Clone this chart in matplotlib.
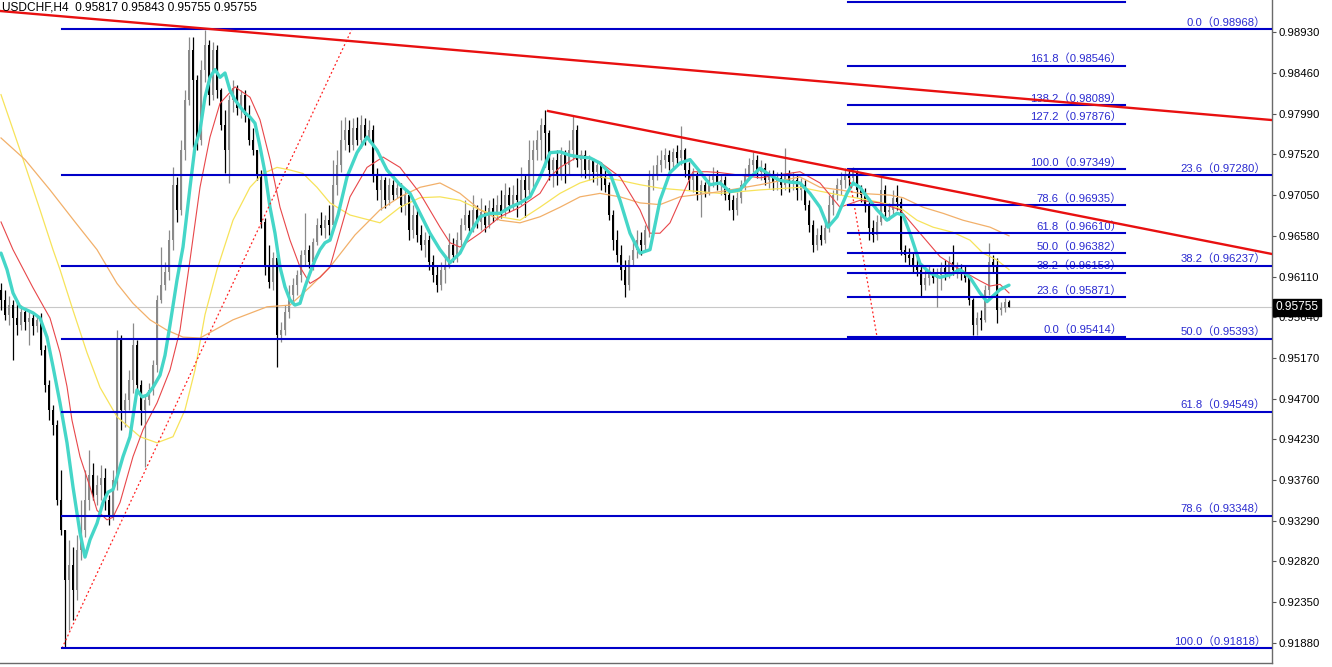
import numpy as np
import matplotlib
matplotlib.use('Agg')
import matplotlib.pyplot as plt
import matplotlib.transforms as mtransforms

plt.rcParams['font.family'] = ['Liberation Sans', 'Noto Sans CJK SC', 'DejaVu Sans']

# ---- data (prices in pips, 4 decimals) ----
symbol = 'USDCHF,H4'
last_ohlc = (0.95817, 0.95843, 0.95755, 0.95755)
first_open = 9596

close_pips = [
    9584, 9567, 9578, 9563, 9555, 9570, 9558, 9563, 9554, 9561,
    9526, 9486, 9457, 9440, 9353, 9318, 9261, 9278, 9249, 9295,
    9318, 9353, 9382, 9359, 9370, 9378, 9353, 9336, 9376, 9538,
    9457, 9468, 9492, 9532, 9486, 9457, 9468, 9480, 9509, 9584,
    9601, 9616, 9653, 9717, 9688, 9757, 9815, 9873, 9838, 9769,
    9850, 9878, 9821, 9873, 9826, 9786, 9757, 9815, 9829, 9806,
    9821, 9798, 9769, 9757, 9728, 9674, 9624, 9605, 9632, 9544,
    9549, 9570, 9590, 9601, 9613, 9636, 9642, 9628, 9651, 9671,
    9667, 9676, 9671, 9717, 9740, 9769, 9780, 9763, 9783, 9769,
    9786, 9771, 9780, 9728, 9711, 9722, 9699, 9717, 9705, 9713,
    9694, 9705, 9665, 9682, 9659, 9647, 9653, 9628, 9613, 9601,
    9619, 9624, 9647, 9636, 9653, 9671, 9682, 9667, 9688, 9674,
    9686, 9671, 9690, 9682, 9694, 9686, 9705, 9694, 9705, 9699,
    9722, 9711, 9746, 9757, 9769, 9786, 9777, 9734, 9746, 9728,
    9751, 9740, 9757, 9780, 9746, 9751, 9734, 9746, 9732, 9740,
    9725, 9717, 9682, 9653, 9636, 9619, 9601, 9630, 9642, 9653,
    9647, 9665, 9722, 9728, 9740, 9746, 9751, 9743, 9755, 9748,
    9757, 9734, 9722, 9728, 9705, 9717, 9709, 9722, 9728, 9717,
    9722, 9705, 9699, 9688, 9702, 9717, 9728, 9740, 9746, 9732,
    9736, 9722, 9728, 9720, 9725, 9717, 9728, 9720, 9722, 9711,
    9717, 9694, 9671, 9647, 9659, 9653, 9667, 9694, 9705, 9717,
    9722, 9728, 9725, 9732, 9711, 9705, 9694, 9667, 9659, 9674,
    9711, 9686, 9688, 9702, 9697, 9642, 9636, 9632, 9624, 9619,
    9601, 9609, 9616, 9609, 9613, 9621, 9616, 9628, 9619, 9621,
    9615, 9609, 9584, 9555, 9563, 9561, 9596, 9628, 9624, 9572,
    9575, 9581.7, 9575.5]

high_pips = [
    9604, 9596, 9589, 9584, 9584, 9578, 9575, 9572, 9570, 9567,
    9569, 9532, 9492, 9463, 9445, 9388, 9318, 9307, 9299, 9313,
    9353, 9388, 9411, 9396, 9382, 9393, 9390, 9359, 9388, 9549,
    9544, 9477, 9503, 9557, 9538, 9492, 9474, 9488, 9515, 9590,
    9645, 9628, 9665, 9737, 9726, 9769, 9826, 9888, 9888, 9844,
    9861, 9896, 9884, 9882, 9878, 9829, 9803, 9821, 9838, 9832,
    9826, 9826, 9809, 9783, 9757, 9734, 9679, 9647, 9639, 9636,
    9558, 9578, 9601, 9609, 9619, 9642, 9684, 9647, 9656, 9679,
    9686, 9682, 9694, 9746, 9757, 9792, 9795, 9792, 9794, 9795,
    9798, 9794, 9792, 9786, 9736, 9728, 9726, 9725, 9722, 9720,
    9719, 9711, 9709, 9694, 9688, 9671, 9662, 9659, 9636, 9624,
    9628, 9636, 9661, 9656, 9662, 9679, 9699, 9688, 9705, 9694,
    9702, 9694, 9699, 9702, 9705, 9711, 9719, 9714, 9717, 9725,
    9737, 9728, 9769, 9769, 9780, 9794, 9803, 9780, 9749, 9757,
    9761, 9757, 9769, 9798, 9786, 9757, 9757, 9751, 9748, 9746,
    9743, 9734, 9720, 9688, 9665, 9647, 9630, 9636, 9653, 9665,
    9662, 9671, 9734, 9740, 9751, 9757, 9759, 9757, 9759, 9763,
    9785, 9759, 9743, 9736, 9732, 9722, 9720, 9728, 9737, 9734,
    9728, 9727, 9713, 9705, 9709, 9722, 9736, 9748, 9755, 9751,
    9746, 9742, 9734, 9734, 9732, 9732, 9759, 9734, 9732, 9728,
    9725, 9722, 9699, 9676, 9667, 9671, 9674, 9705, 9711, 9725,
    9732, 9736, 9736, 9737, 9734, 9717, 9713, 9702, 9676, 9682,
    9728, 9717, 9696, 9711, 9717, 9702, 9647, 9644, 9639, 9632,
    9624, 9619, 9624, 9621, 9621, 9628, 9630, 9635, 9647, 9628,
    9625, 9623, 9613, 9586, 9570, 9572, 9601, 9650, 9636, 9632,
    9581, 9586, 9584.3]

low_pips = [
    9572, 9561, 9555, 9515, 9544, 9549, 9549, 9532, 9544, 9547,
    9520, 9478, 9445, 9428, 9347, 9313, 9182, 9203, 9214, 9238,
    9284, 9310, 9341, 9353, 9347, 9353, 9341, 9324, 9330, 9365,
    9434, 9437, 9457, 9477, 9478, 9440, 9391, 9463, 9474, 9501,
    9580, 9596, 9607, 9642, 9674, 9682, 9746, 9809, 9761, 9757,
    9763, 9836, 9809, 9815, 9817, 9780, 9731, 9719, 9801, 9798,
    9794, 9789, 9763, 9751, 9722, 9667, 9613, 9598, 9596, 9507,
    9535, 9544, 9563, 9578, 9590, 9605, 9624, 9621, 9619, 9647,
    9659, 9656, 9659, 9665, 9705, 9732, 9757, 9755, 9757, 9763,
    9759, 9763, 9766, 9720, 9699, 9688, 9690, 9694, 9699, 9702,
    9686, 9682, 9653, 9656, 9651, 9642, 9634, 9619, 9605, 9593,
    9596, 9604, 9621, 9628, 9628, 9647, 9665, 9664, 9662, 9667,
    9665, 9662, 9667, 9674, 9676, 9679, 9681, 9686, 9688, 9680,
    9694, 9680, 9705, 9714, 9746, 9746, 9737, 9722, 9714, 9717,
    9722, 9719, 9728, 9746, 9737, 9726, 9725, 9722, 9720, 9717,
    9711, 9709, 9676, 9642, 9628, 9607, 9587, 9596, 9624, 9632,
    9636, 9642, 9657, 9711, 9722, 9732, 9736, 9734, 9736, 9740,
    9740, 9726, 9711, 9709, 9699, 9680, 9703, 9705, 9714, 9711,
    9705, 9699, 9688, 9676, 9682, 9696, 9711, 9722, 9732, 9725,
    9722, 9717, 9713, 9711, 9711, 9705, 9711, 9709, 9711, 9699,
    9699, 9688, 9662, 9639, 9642, 9647, 9650, 9662, 9682, 9699,
    9705, 9713, 9713, 9717, 9703, 9697, 9686, 9653, 9651, 9653,
    9671, 9676, 9676, 9682, 9688, 9636, 9628, 9624, 9616, 9612,
    9587, 9596, 9601, 9604, 9576, 9596, 9607, 9609, 9613, 9609,
    9607, 9605, 9578, 9544, 9544, 9549, 9558, 9590, 9616, 9557,
    9567, 9570, 9575.5]

# moving averages: (bar, value in pips)
ma_fast_bar = [0, 1.5, 3, 4.75, 8, 9.75, 11.5, 13, 14.75, 16.5,
               18, 19.75, 21, 22.25, 24, 25.5, 26.75, 28, 29, 30.5,
               32.25, 34, 35.25, 36.5, 38, 39.75, 41, 42.25, 44, 45.5,
               47.25, 48.5, 49.75, 51, 52.25, 53.5, 54.75, 56, 57.25, 58.5,
               59.75, 61, 62.25, 63.5, 64.75, 66, 67.25, 68.5, 69.75, 71,
               72.25, 73.5, 74.75, 76, 77.25, 78.5, 79.75, 81, 82.25, 84.25,
               86.5, 89, 91.5, 94, 96.5, 99.75, 102.25, 104.75, 107.25, 109.75,
               112.25, 114.75, 117.25, 119.75, 122.25, 124.75, 127.25, 129.75, 132.25, 134.75,
               137.25, 139.75, 142.25, 144.75, 147.25, 149.75, 152.25, 154.75, 157.25, 159.75,
               162.25, 164.75, 167.25, 169.75, 172.25, 174.75, 177.25, 179.75, 182.25, 184.75,
               187.25, 189.75, 192.25, 194.75, 197.25, 199.75, 202.25, 204.75, 206.75, 209,
               211.5, 213, 214.75, 216.5, 219, 221.5, 224, 225.5, 227.25, 229.75,
               232.25, 234.75, 237.25, 239.75, 242.25, 244.75, 246.5, 249.75, 252]
ma_fast = [9638, 9619, 9592, 9576, 9569, 9563, 9541, 9507, 9465, 9419,
           9368, 9315, 9287, 9307, 9326, 9350, 9362, 9365, 9379, 9403,
           9426, 9480, 9472, 9474, 9483, 9497, 9520, 9555, 9607, 9645,
           9714, 9761, 9780, 9818, 9841, 9850, 9841, 9846, 9826, 9815,
           9807, 9800, 9795, 9788, 9761, 9731, 9691, 9661, 9622, 9599,
           9584, 9578, 9580, 9599, 9615, 9630, 9642, 9650, 9653, 9682,
           9726, 9754, 9772, 9757, 9734, 9717, 9707, 9684, 9661, 9642,
           9627, 9638, 9661, 9680, 9684, 9684, 9691, 9696, 9703, 9726,
           9754, 9755, 9751, 9749, 9748, 9742, 9730, 9699, 9661, 9638,
           9642, 9699, 9731, 9742, 9746, 9732, 9717, 9719, 9709, 9711,
           9725, 9736, 9728, 9722, 9720, 9719, 9707, 9691, 9668, 9680,
           9707, 9719, 9714, 9703, 9688, 9676, 9684, 9682, 9661, 9626,
           9615, 9610, 9613, 9619, 9610, 9592, 9582, 9596, 9601]

ma_mid_bar = [0, 3, 8, 12.25, 14.75, 16.5, 17.75, 19.75, 22.25, 24,
              26.5, 28, 29.75, 33, 35.5, 39, 42.25, 44.75, 47.25, 49.75,
              52.25, 54.75, 58.5, 62.25, 64.75, 67.25, 69.75, 72.25, 74.75, 77.25,
              79.75, 82.25, 87.25, 91.5, 95.5, 99.75, 104.75, 109.75, 112.25, 114.75,
              119.75, 124.75, 129.75, 134.75, 137.25, 139.75, 144.75, 149.75, 154.75, 159.75,
              162.25, 164.75, 167.25, 169.75, 173, 176.5, 179.75, 189.75, 199.75, 204.75,
              209.75, 214.75, 219.75, 224.75, 229.75, 234.75, 239.75, 244.75, 247.25, 249.75, 252]
ma_mid = [9674, 9642, 9598, 9563, 9523, 9484, 9445, 9403, 9368, 9341,
          9330, 9333, 9350, 9403, 9434, 9465, 9503, 9549, 9630, 9714,
          9772, 9811, 9830, 9818, 9792, 9746, 9691, 9653, 9622, 9603,
          9610, 9622, 9703, 9737, 9749, 9737, 9707, 9668, 9650, 9645,
          9661, 9680, 9691, 9707, 9726, 9737, 9751, 9743, 9726, 9688,
          9661, 9661, 9673, 9699, 9732, 9732, 9731, 9725, 9732, 9719,
          9691, 9699, 9696, 9688, 9661, 9634, 9619, 9606, 9600, 9602, 9592]

ma_long_bar = [0, 6, 12.25, 18.5, 24, 29, 33, 37.25, 41.5, 45.5,
               49.75, 58, 66.5, 72.25, 77.25, 82.25, 88.5, 94.75, 99.75, 104.75,
               109.75, 114.75, 119.75, 124.75, 129.75, 134.75, 139.75, 144.75, 149.75, 154.75,
               159.75, 164.75, 169.75, 179.75, 189.75, 199.75, 204.75, 209.75, 214.75, 222.25,
               225.5, 230.5, 235.5, 240.5, 247.25, 252]
ma_long = [9771, 9746, 9711, 9674, 9642, 9603, 9580, 9561, 9549, 9541,
           9540, 9561, 9576, 9578, 9599, 9622, 9659, 9688, 9703, 9714,
           9719, 9707, 9688, 9676, 9673, 9680, 9691, 9703, 9707, 9703,
           9696, 9694, 9703, 9709, 9717, 9726, 9714, 9711, 9707, 9705,
           9702, 9691, 9684, 9676, 9668, 9658]

ma_yel_bar = [0, 4.75, 9.75, 13, 14.75, 18, 21.5, 24.75, 29, 34.75,
              39, 43, 46, 48.5, 51, 54, 58, 62.25, 65.5, 69,
              72.25, 75.5, 79, 82.25, 87.25, 94.75, 99.75, 104.75, 109.75, 114.75,
              119.75, 124.75, 129.75, 134.75, 139.75, 144.75, 149.75, 154.75, 159.75, 164.75,
              169.75, 179.75, 189.75, 199.75, 209.75, 217.25, 222.25, 225.5, 229, 233,
              238, 242.25, 245.5, 249, 252]
ma_yel = [9821, 9757, 9688, 9642, 9619, 9572, 9523, 9483, 9449, 9426,
          9419, 9426, 9457, 9503, 9567, 9619, 9676, 9714, 9730, 9737,
          9734, 9730, 9714, 9696, 9682, 9673, 9691, 9702, 9703, 9699,
          9688, 9680, 9676, 9691, 9707, 9719, 9726, 9722, 9717, 9713,
          9711, 9707, 9711, 9714, 9705, 9699, 9694, 9688, 9676, 9668,
          9662, 9653, 9638, 9630, 9619]

# fibonacci retracement objects
fib1_bars = (15.25, 87.75)
fib1_levels = [0.0, 23.6, 38.2, 50.0, 61.8, 78.6, 100.0]
fib1_prices = [0.98968, 0.97280, 0.96237, 0.95393, 0.94549, 0.93348, 0.91818]

fib2_bars = (211.75, 219.0, 281.0)
fib2_levels = [0.0, 23.6, 38.2, 50.0, 61.8, 78.6, 100.0, 127.2, 138.2, 161.8, 200.0]
fib2_prices = [0.95414, 0.95871, 0.96153, 0.96382, 0.96610, 0.96935,
               0.97349, 0.97876, 0.98089, 0.98546, 0.99284]

# trend lines (bar, price)
trend1 = [(51, 0.98973), (250, 0.98185)]
trend2 = [(136.75, 0.98021), (250, 0.96988)]

yticks = [0.98930, 0.98460, 0.97990, 0.97520, 0.97050, 0.96580, 0.96110, 0.95640,
          0.95170, 0.94700, 0.94230, 0.93760, 0.93290, 0.92820, 0.92350, 0.91880]

# ---- build candles ----
close = np.array(close_pips) / 10000
high = np.array(high_pips) / 10000
low = np.array(low_pips) / 10000
opn = np.concatenate([[first_open / 10000], close[:-1]])
opn[-1] = last_ohlc[0]
high = np.maximum(high, np.maximum(opn, close))
low = np.minimum(low, np.minimum(opn, close))
x = np.arange(len(close))

fig = plt.figure(figsize=(13.32, 6.67), dpi=100)
ax = fig.add_axes([0, 4 / 667, 1272 / 1332, 663 / 667])
xmin, xmax = -0.25, 317.75
ymin, ymax = 0.916471, 0.993030
ax.set_xlim(xmin, xmax)
ax.set_ylim(ymin, ymax)

up = close >= opn
cols = np.where(up, '#8a8a8a', '#000000')
ax.axhline(last_ohlc[3], color='#c8c8c8', lw=0.8, zorder=0.5)
ax.vlines(x, low, high, colors=cols, lw=0.9, zorder=2)
ax.bar(x, np.maximum(np.abs(close - opn), 0.00003), bottom=np.minimum(opn, close),
       width=0.7, color=cols, lw=0, zorder=2.1)

# moving averages
ax.plot(ma_yel_bar, np.array(ma_yel) / 10000, color='#f7e35a', lw=0.9, zorder=3)
ax.plot(ma_long_bar, np.array(ma_long) / 10000, color='#f2b06a', lw=0.9, zorder=3)
ax.plot(ma_mid_bar, np.array(ma_mid) / 10000, color='#e8474a', lw=0.8, zorder=3.1)
ax.plot(ma_fast_bar, np.array(ma_fast) / 10000, color='#45d6c8', lw=2.4,
        solid_joinstyle='round', solid_capstyle='round', zorder=3.2)

# fibonacci levels
fib_col = '#0000c8'
txt_col = '#2a2ad0'
lab_fs = 8.1
blend = mtransforms.blended_transform_factory(ax.transAxes, ax.transData)
ax.plot(fib1_bars, [fib1_prices[-1], fib1_prices[0]], color='#ff2020', lw=0.9,
        ls=(0, (1.5, 2)), zorder=3.5)
for lvl, p in zip(fib1_levels, fib1_prices):
    ax.plot([fib1_bars[0], xmax], [p, p], color=fib_col, lw=1.5, zorder=4)
    ax.annotate(f'{lvl:.1f}（{p:.5f}）', xy=(1.0, p), xycoords=blend,
                xytext=(-4.5, 2.5), textcoords='offset points', ha='right',
                va='baseline', fontsize=lab_fs, color=txt_col)

ax.plot(fib2_bars[:2], [fib2_prices[6], fib2_prices[0]], color='#ff2020', lw=0.9,
        ls=(0, (1.5, 2)), zorder=3.5)
for lvl, p in zip(fib2_levels, fib2_prices):
    ax.plot([fib2_bars[0], fib2_bars[2]], [p, p], color=fib_col, lw=1.5, zorder=4)
    if p + 0.0012 < ymax:  # label of the top level lies above the visible window
        ax.annotate(f'{lvl:.1f}（{p:.5f}）', xy=(fib2_bars[2], p), xycoords='data',
                    xytext=(-2, 2.5), textcoords='offset points', ha='right',
                    va='baseline', fontsize=lab_fs, color=txt_col)

# trend lines
for (b1, p1), (b2, p2) in [trend1]:
    s = (p2 - p1) / (b2 - b1)
    ax.plot([xmin, xmax], [p1 + s * (xmin - b1), p1 + s * (xmax - b1)],
            color='#e81010', lw=1.7, zorder=5)
for (b1, p1), (b2, p2) in [trend2]:
    s = (p2 - p1) / (b2 - b1)
    ax.plot([b1, xmax], [p1, p1 + s * (xmax - b1)], color='#e81010', lw=1.7, zorder=5)

# axes styling
ax.yaxis.tick_right()
ax.set_yticks(yticks)
ax.set_yticklabels([f'{t:.5f}' for t in yticks])
ax.tick_params(axis='y', length=3, width=0.8, color='#555555', labelsize=8.2, pad=2)
ax.set_xticks([])
for s in ['left', 'top']:
    ax.spines[s].set_visible(False)
for s in ['right', 'bottom']:
    ax.spines[s].set_color('#6a6a6a')
    ax.spines[s].set_linewidth(1.0)

ax.text(1.003, last_ohlc[3], f'{last_ohlc[3]:.5f}', transform=blend, ha='left',
        va='center', fontsize=8.6, color='white', zorder=10,
        bbox=dict(boxstyle='square,pad=0.2', fc='black', ec='black'))

fig.text(2 / 1332, 1 - 1 / 667,
         f'{symbol}  ' + ' '.join(f'{v:.5f}' for v in last_ohlc),
         ha='left', va='top', fontsize=8.6, color='black')

fig.savefig('out.png', dpi=100)
